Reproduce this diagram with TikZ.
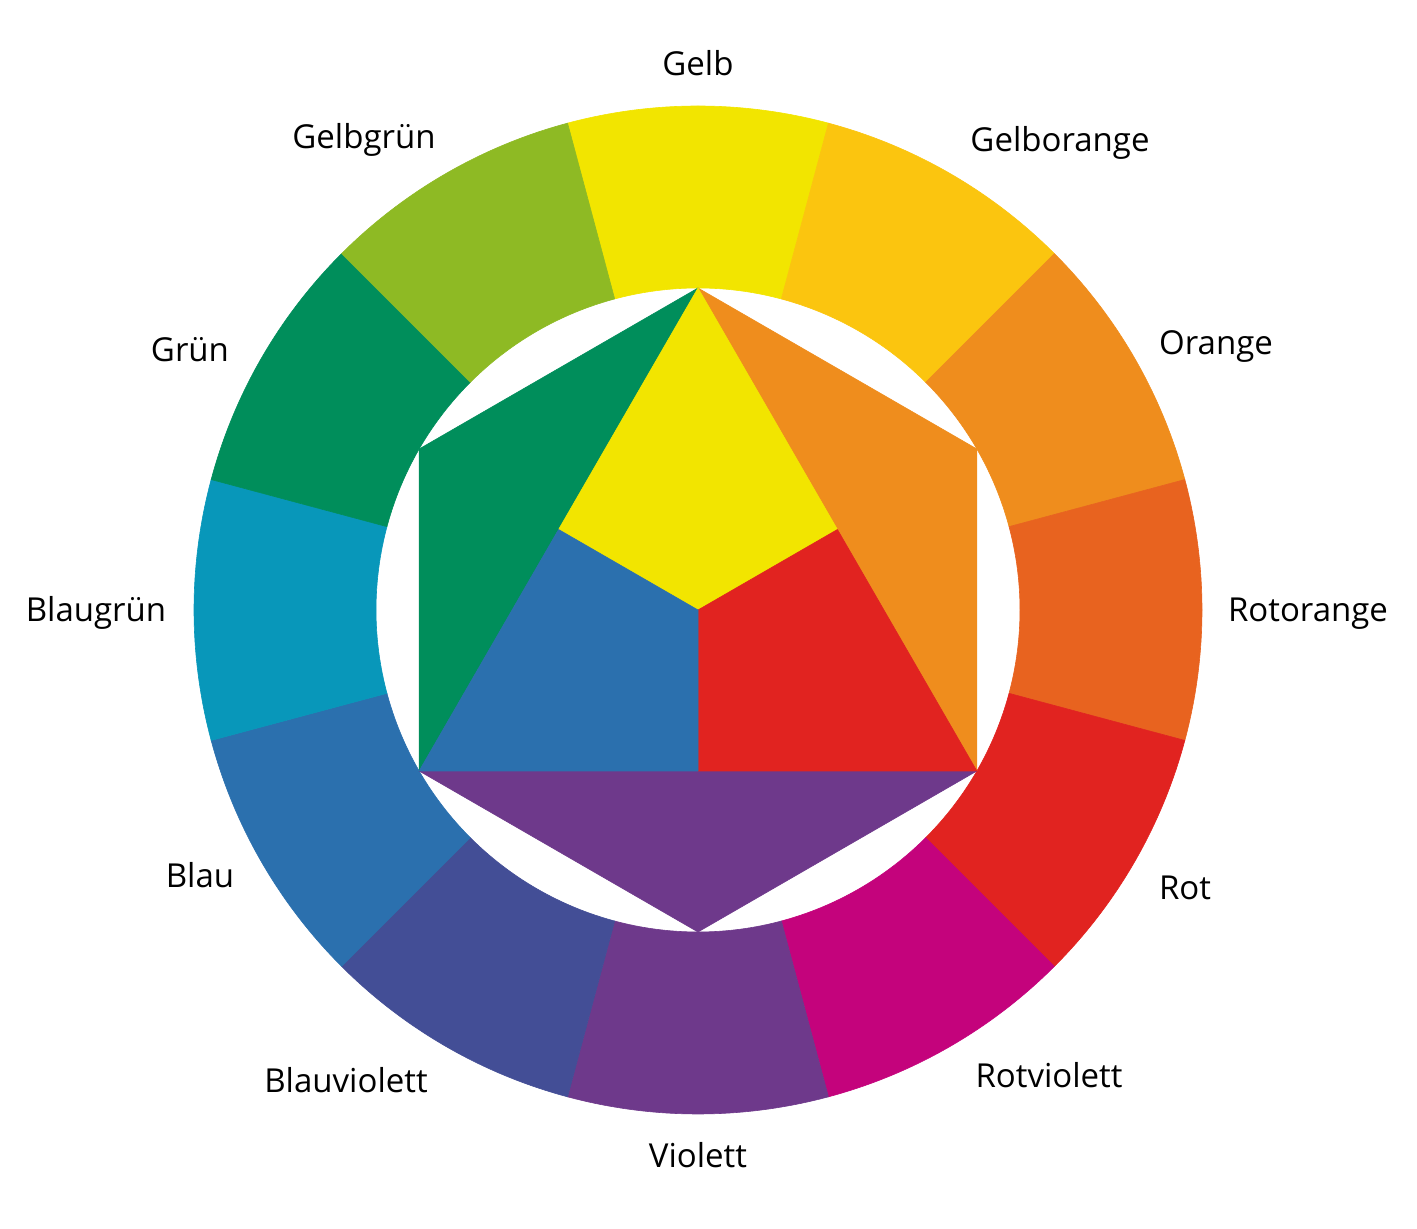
\documentclass[tikz,border=0pt]{standalone}
\usepackage{fontspec}
\setmainfont{Open Sans}
\usetikzlibrary{calc}
\definecolor{cGelb}{HTML}{F2E500}
\definecolor{cGelborange}{HTML}{FBC50F}
\definecolor{cOrange}{HTML}{EF8D1D}
\definecolor{cRotorange}{HTML}{E8631F}
\definecolor{cRot}{HTML}{E12320}
\definecolor{cRotviolett}{HTML}{C4037C}
\definecolor{cViolett}{HTML}{6E398B}
\definecolor{cBlauviolett}{HTML}{434E96}
\definecolor{cBlau}{HTML}{2B70AE}
\definecolor{cBlaugruen}{HTML}{0897BA}
\definecolor{cGruen}{HTML}{008E5B}
\definecolor{cGelbgruen}{HTML}{8EBA24}
\tikzset{
  lbl/.style={anchor=base, font=\fontsize{33}{36}\selectfont, text=black, inner sep=0pt},
  patch/.style={fill=#1, draw=#1, line width=0.6pt, line join=round}
}
\begin{document}
\begin{tikzpicture}[x=1pt,y=1pt]
\useasboundingbox (0,0) rectangle (1417,1229);
\begin{scope}[shift={(698,619)}]
  \foreach \a/\c in {90/cGelb,60/cGelborange,30/cOrange,0/cRotorange,-30/cRot,-60/cRotviolett,-90/cViolett,-120/cBlauviolett,-150/cBlau,180/cBlaugruen,150/cGruen,120/cGelbgruen}{
    \path[patch=\c] (\a-15:504) arc[start angle=\a-15, end angle=\a+15, radius=504]
      -- (\a+15:322) arc[start angle=\a+15, end angle=\a-15, radius=322] -- cycle;
  }
  \coordinate (T) at (90:322);
  \coordinate (UR) at (30:322);
  \coordinate (LR) at (-30:322);
  \coordinate (B) at (-90:322);
  \coordinate (LL) at (210:322);
  \coordinate (UL) at (150:322);
  \coordinate (O) at (0,0);
  \coordinate (MR) at ($(T)!0.5!(LR)$);
  \coordinate (ML) at ($(T)!0.5!(LL)$);
  \coordinate (MB) at ($(LL)!0.5!(LR)$);
  \path[patch=cGruen] (T) -- (UL) -- (LL) -- cycle;
  \path[patch=cOrange] (T) -- (UR) -- (LR) -- cycle;
  \path[patch=cViolett] (LL) -- (LR) -- (B) -- cycle;
  \path[patch=cGelb] (T) -- (MR) -- (O) -- (ML) -- cycle;
  \path[patch=cRot] (O) -- (MR) -- (LR) -- (MB) -- cycle;
  \path[patch=cBlau] (O) -- (ML) -- (LL) -- (MB) -- cycle;
\end{scope}
\node[lbl] (lGelb) at (698,1153) {Gelb};
\node[lbl] (lGelbgruen) at (364,1080) {Gelbgrün};
\node[lbl] (lGelborange) at (1060,1077) {Gelborange};
\node[lbl] (lGruen) at (190,867) {Grün};
\node[lbl] (lOrange) at (1216,874) {Orange};
\node[lbl] (lBlaugruen) at (96,607) {Blaugrün};
\node[lbl] (lRotorange) at (1308,607) {Rotorange};
\node[lbl] (lBlau) at (200,341) {Blau};
\node[lbl] (lRot) at (1185,329) {Rot};
\node[lbl] (lBlauviolett) at (346,136) {Blauviolett};
\node[lbl] (lRotviolett) at (1049,141) {Rotviolett};
\node[lbl] (lViolett) at (698,61) {Violett};
\end{tikzpicture}
\end{document}
